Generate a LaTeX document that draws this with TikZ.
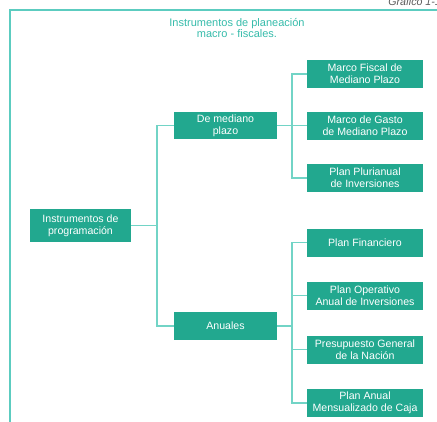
\documentclass[tikz,border=0pt]{standalone}
\usepackage{fontspec}
\setmainfont{Liberation Sans}
\definecolor{boxc}{HTML}{22A88F}
\definecolor{linec}{HTML}{72D4C6}
\definecolor{framec}{HTML}{5CCCC0}
\definecolor{titlec}{HTML}{35BBAA}
\begin{document}
\begin{tikzpicture}[x=1pt,y=-1pt,
  tbox/.style={fill=boxc,draw=none,text=white,align=center,inner sep=0pt,
    font=\fontsize{10.6}{11.9}\selectfont},
  rbox/.style={tbox,minimum width=116pt,minimum height=28pt},
  conn/.style={draw=linec,line width=1.2pt}]
\useasboundingbox (0,0) rectangle (437,421);
\draw[framec,line width=1.5pt] (10,10) rectangle (450,440);
\node[anchor=base east,font=\itshape\fontsize{10.6}{11}\selectfont,text=gray!70!black,inner sep=0pt] (gr) at (441,5) {Gráfico 1-1};
\node[align=center,text=titlec,font=\fontsize{11}{11.2}\selectfont] (title) at (237,28) {Instrumentos de planeación\\macro - fiscales.};
\node[tbox,minimum width=101pt,minimum height=33pt] (ip) at (80.5,225.5) {Instrumentos de\\programación};
\node[tbox,minimum width=103pt,minimum height=27pt] (dm) at (225.5,125.5) {De mediano\\plazo};
\node[tbox,minimum width=103pt,minimum height=28pt] (an) at (225.5,326) {Anuales};
\node[rbox] (mf) at (365,74) {Marco Fiscal de\\Mediano Plazo};
\node[rbox] (mg) at (365,125.5) {Marco de Gasto\\de Mediano Plazo};
\node[rbox] (pp) at (365,178) {Plan Plurianual\\de Inversiones};
\node[rbox] (pf) at (365,242.5) {Plan Financiero};
\node[rbox] (po) at (365,295.5) {Plan Operativo\\Anual de Inversiones};
\node[rbox] (pg) at (365,349.5) {Presupuesto General\\de la Nación};
\node[rbox] (pa) at (365,403) {Plan Anual\\Mensualizado de Caja};
\coordinate (j1) at (157,0);
\coordinate (j2) at (292,0);
\path[conn] (ip.east) -- (ip.east -| j1);
\path[conn] (dm.west) -- (dm.west -| j1) -- (an.west -| j1) -- (an.west);
\path[conn] (dm.east) -- (dm.east -| j2);
\path[conn] (mf.west) -- (mf.west -| j2) -- (pp.west -| j2) -- (pp.west);
\path[conn] (mg.west) -- (mg.west -| j2);
\path[conn] (an.east) -- (an.east -| j2);
\path[conn] (pf.west) -- (pf.west -| j2) -- (pa.west -| j2) -- (pa.west);
\path[conn] (po.west) -- (po.west -| j2);
\path[conn] (pg.west) -- (pg.west -| j2);
\end{tikzpicture}
\end{document}
